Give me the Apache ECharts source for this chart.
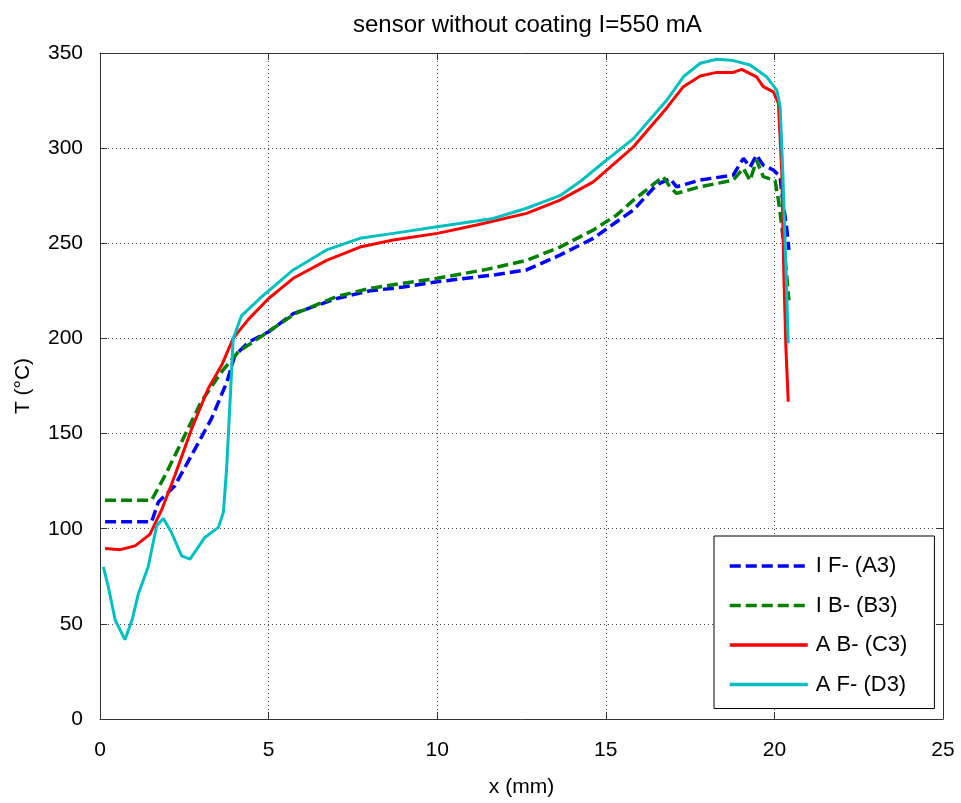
<!DOCTYPE html>
<html>
<head>
<meta charset="utf-8">
<script src="https://cdn.jsdelivr.net/npm/echarts@6/dist/echarts.min.js"></script>
<style>
html,body{margin:0;padding:0;background:#fff;}
#chart{width:961px;height:803px;}
</style>
</head>
<body>
<div id="chart"></div>
<script>
// I F- (A3)
var a3X=[0.15,1.53,1.73,2.22,2.82,3.31,3.76,4.0,4.4,5.0,5.73,7.02,8.0,9.0,10,11.66,12.65,13.64,14.63,15.32,15.82,16.41,16.6,16.9,17.1,17.8,18.78,19.08,19.28,19.47,19.67,19.97,20.17,20.22,20.36,20.43];
var a3Y=[103.6,103.6,114,122.6,142,158,177,191,198,203.5,213,221,225,227,229.8,233.3,236,243.8,252.6,261.3,267.5,278.9,281.5,284,279.7,283.2,285.9,294.6,290,296.4,291,288.5,285,276,258.7,246.5];
// I B- (B3)
var b3X=[0.15,1.53,1.93,2.42,3.0,3.61,4.1,5.0,5.78,7.02,8.0,9.0,10,11.47,12.65,13.64,14.63,15.32,15.82,16.7,16.9,17.1,17.8,18.78,19.08,19.28,19.47,19.67,20.02,20.12,20.22,20.36,20.43];
var b3Y=[115,115,128,145.6,166.7,182.5,193,203.6,213,222,226.3,229,231.6,236.3,241,248,257,264.8,272.7,285,279.7,276.2,279.7,283.2,289.4,283,293.7,285,283,272.7,258.7,234,220];
// A B- (C3)
var c3X=[0.15,0.6,1.04,1.48,1.83,2.22,2.72,3.21,3.61,3.95,4.4,5.0,5.73,6.72,7.71,8.7,10,11.17,12.65,13.64,14.63,15.82,16.8,17.3,17.8,18.29,18.78,19.03,19.47,19.67,19.97,20.12,20.22,20.28,20.34,20.41];
var c3Y=[89.6,89,91,97,110,128,152.6,173.7,186,200,210,221,231.6,241,248,251.7,255.2,259.6,265.7,272.7,282.3,300.7,321,332.3,337.9,339.8,339.8,341.4,337.5,332.3,329.6,323.5,286.8,234,195.6,166.7];
// A F- (D3)
var d3X=[0.1,0.24,0.45,0.74,0.95,1.14,1.43,1.68,1.88,2.12,2.42,2.67,3.11,3.51,3.66,3.76,3.86,3.95,4.2,4.74,5.73,6.72,7.71,8.7,10,11.66,12.65,13.64,14.23,14.83,15.82,16.8,17.3,17.8,18.29,18.78,19.28,19.77,20.07,20.17,20.25,20.33,20.41];
var d3Y=[80,70,52,41.7,52,66,80,101.5,105.4,98,85.7,84,95.4,100.7,108.6,133,168,200,212,221,236,246.5,252.6,255.2,258.7,263,268.4,275,282.3,291,305,325,337.5,344.6,346.7,346,343.7,337.5,330.5,321.8,286.8,243,197.4];

var seriesNames=['I F- (A3)','I B- (B3)','A B- (C3)','A F- (D3)'];
var seriesColors=['#0000ff','#007f00','#ff0000','#00bfbf'];

function zip(xs,ys){
    var out=[];
    for(var i=0;i<xs.length;i++){
        out.push([xs[i],ys[i]]);
    }
    return out;
}

var font='Liberation Sans, Arial, Helvetica, sans-serif';
var myChart=echarts.init(document.getElementById('chart'));

var gridLine={show:true,lineStyle:{color:'#444',type:[1,3],width:1}};

//图例数据，线宽单独设置
var legendData=[];
for(var i=0;i<seriesNames.length;i++){
    legendData.push({
        name:seriesNames[i],
        lineStyle:{width:3.5,color:seriesColors[i],type:i<2?[11,5]:'solid'}
    });
}

var option={
    backgroundColor:'#fff',
    animation:false,
    title:{
        text:'sensor without coating I=550 mA',
        left:348,
        top:8,
        textStyle:{fontFamily:font,fontSize:24,fontWeight:'normal',color:'#000'}
    },
    grid:{left:100,right:18,top:53,bottom:84},
    legend:{
        orient:'vertical',
        left:714,
        top:536,
        padding:[19,27,13,14],
        itemWidth:78,
        itemHeight:20,
        itemGap:17.5,
        borderColor:'#000',
        borderWidth:1,
        backgroundColor:'#fff',
        itemStyle:{opacity:0},
        textStyle:{fontFamily:font,fontSize:22,color:'#000',padding:[0,0,0,3]},
        data:legendData
    },
    xAxis:[{
        type:'value',
        min:0,max:25,interval:5,
        name:'x (mm)',
        nameLocation:'middle',
        nameGap:58,
        nameTextStyle:{fontFamily:font,fontSize:21,color:'#000'},
        axisLine:{show:true,onZero:false,lineStyle:{color:'#333'}},
        axisTick:{show:true,inside:true,length:7,lineStyle:{color:'#333'}},
        axisLabel:{fontFamily:font,fontSize:21,color:'#000',margin:21},
        splitLine:gridLine
    },{
        type:'value',position:'top',
        min:0,max:25,interval:5,
        axisLine:{show:true,onZero:false,lineStyle:{color:'#333'}},
        axisTick:{show:true,inside:true,length:7,lineStyle:{color:'#333'}},
        axisLabel:{show:false},
        splitLine:{show:false}
    }],
    yAxis:[{
        type:'value',
        min:0,max:350,interval:50,
        name:'T (°C)',
        nameLocation:'middle',
        nameGap:66,
        nameTextStyle:{fontFamily:font,fontSize:21,color:'#000'},
        axisLine:{show:true,onZero:false,lineStyle:{color:'#333'}},
        axisTick:{show:true,inside:true,length:7,lineStyle:{color:'#333'}},
        axisLabel:{fontFamily:font,fontSize:21,color:'#000',margin:17},
        splitLine:gridLine
    },{
        type:'value',position:'right',
        min:0,max:350,interval:50,
        axisLine:{show:true,onZero:false,lineStyle:{color:'#333'}},
        axisTick:{show:true,inside:true,length:7,lineStyle:{color:'#333'}},
        axisLabel:{show:false},
        splitLine:{show:false}
    }],
    series:[
        {name:seriesNames[0],type:'line',symbol:'none',data:zip(a3X,a3Y),
         lineStyle:{color:seriesColors[0],width:3.5,type:[11,5]},itemStyle:{color:seriesColors[0]}},
        {name:seriesNames[1],type:'line',symbol:'none',data:zip(b3X,b3Y),
         lineStyle:{color:seriesColors[1],width:3.5,type:[11,5]},itemStyle:{color:seriesColors[1]}},
        {name:seriesNames[2],type:'line',symbol:'none',data:zip(c3X,c3Y),
         lineStyle:{color:seriesColors[2],width:3},itemStyle:{color:seriesColors[2]}},
        {name:seriesNames[3],type:'line',symbol:'none',data:zip(d3X,d3Y),
         lineStyle:{color:seriesColors[3],width:3},itemStyle:{color:seriesColors[3]}}
    ]
};

myChart.setOption(option);
</script>
</body>
</html>
